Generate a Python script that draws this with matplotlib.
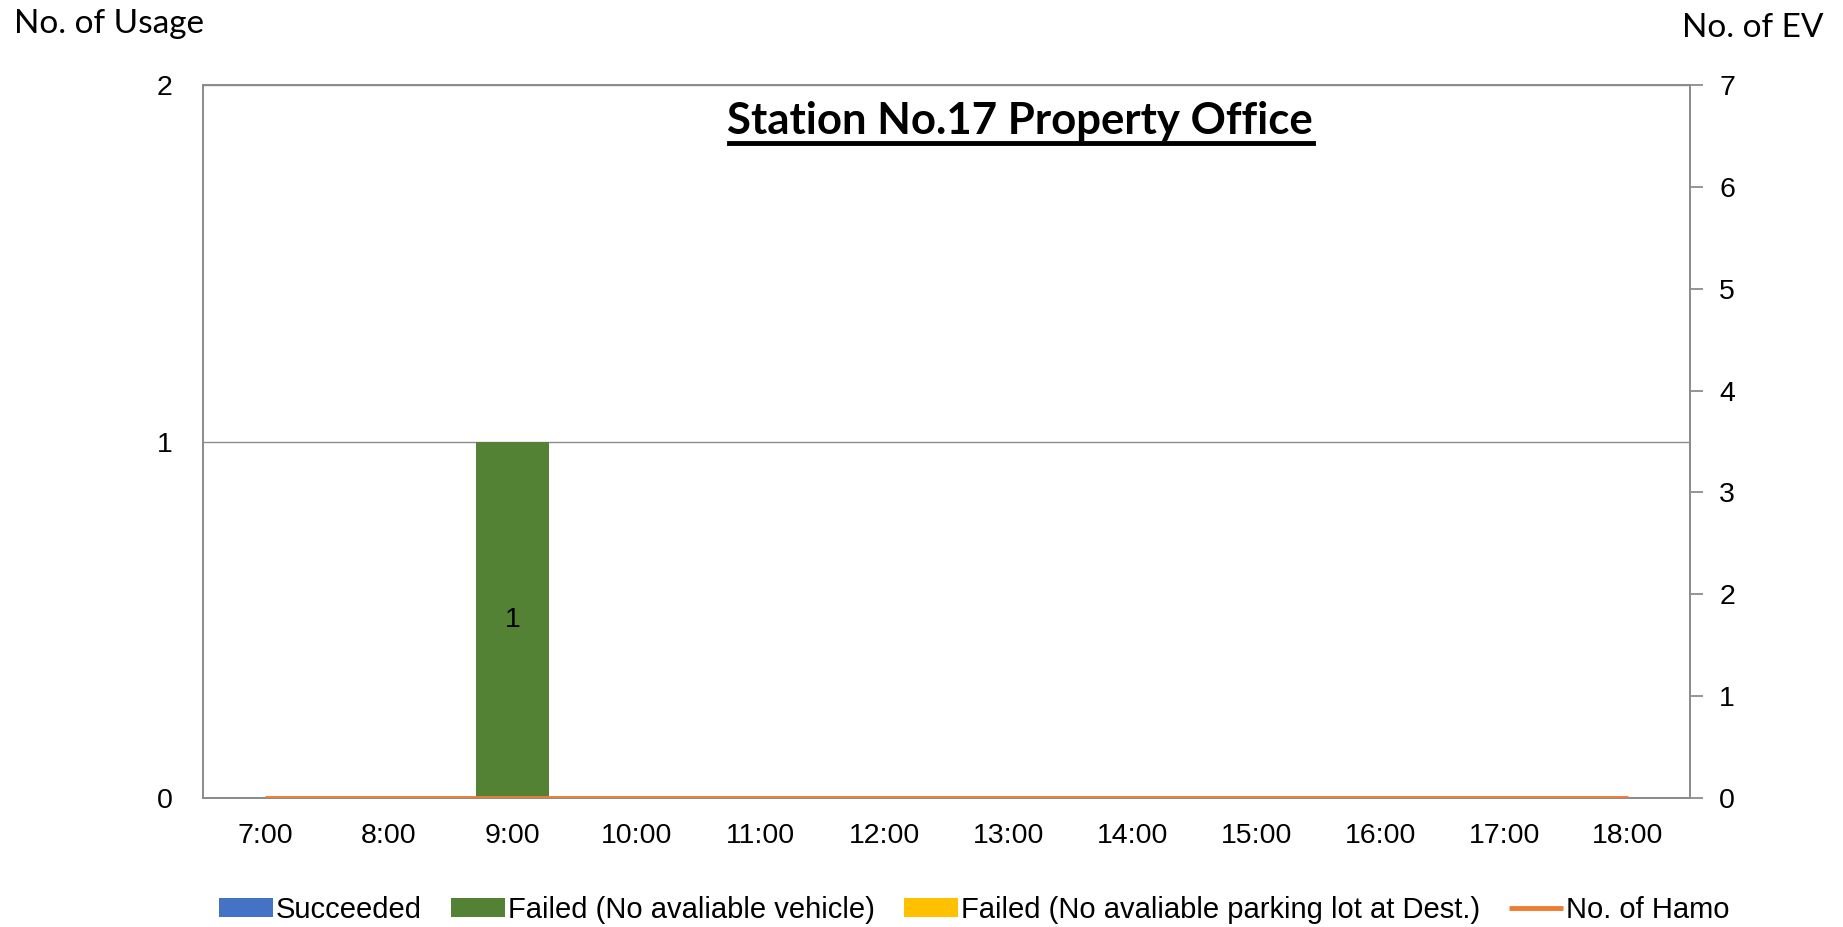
import matplotlib.pyplot as plt
import numpy as np

# data
hours = ['7:00', '8:00', '9:00', '10:00', '11:00', '12:00', '13:00', '14:00',
         '15:00', '16:00', '17:00', '18:00']
succeeded = [0, 0, 0, 0, 0, 0, 0, 0, 0, 0, 0, 0]
failed_vehicle = [0, 0, 1, 0, 0, 0, 0, 0, 0, 0, 0, 0]
failed_parking = [0, 0, 0, 0, 0, 0, 0, 0, 0, 0, 0, 0]
no_of_hamo = [0, 0, 0, 0, 0, 0, 0, 0, 0, 0, 0, 0]

plt.rcParams['font.family'] = ['Liberation Sans', 'DejaVu Sans']

fig = plt.figure(figsize=(18.43, 9.27), dpi=100)
ax = fig.add_axes([203 / 1843, 1 - 798 / 927, (1690 - 203) / 1843, (798 - 85) / 927])
ax2 = ax.twinx()

x = np.arange(len(hours))
w = 0.59
s = np.array(succeeded)
fv = np.array(failed_vehicle)
fp = np.array(failed_parking)
ax.bar(x, s, w, color='#4472C4', label='Succeeded')
bars = ax.bar(x, fv, w, bottom=s, color='#548235', label='Failed (No avaliable vehicle)')
ax.bar(x, fp, w, bottom=s + fv, color='#FFC000', label='Failed (No avaliable parking lot at Dest.)')
for b, v in zip(bars, failed_vehicle):
    if v > 0:
        ax.text(b.get_x() + b.get_width() / 2, b.get_y() + v / 2, str(v),
                ha='center', va='center', fontsize=20.5)

ln, = ax2.plot(x, no_of_hamo, color='#ED7D31', lw=3.5, label='No. of Hamo',
               solid_capstyle='butt', zorder=5)
ax2.set_zorder(ax.get_zorder() + 1)
ax2.patch.set_visible(False)

ax.set_xlim(-0.5, len(hours) - 0.5)
ax.set_ylim(0, 2)
ax.set_yticks([0, 1, 2])
ax2.set_ylim(0, 7)
ax2.set_yticks(range(8))
ax.set_xticks(x)
ax.set_xticklabels(hours)
ax.yaxis.grid(True, color='#8C8C8C', lw=1)
ax.set_axisbelow(True)

for a in (ax, ax2):
    for sp in a.spines.values():
        sp.set_color('#8C8C8C')
        sp.set_linewidth(1.3)
ax.tick_params(axis='x', length=0, labelsize=20.5, pad=18)
ax.tick_params(axis='y', length=0, labelsize=20.5, pad=22)
ax2.tick_params(axis='y', length=9, color='#8C8C8C', width=1.3, labelsize=20.5, pad=12)

fig.text(14 / 1843, 1 - 24 / 927, 'No. of Usage', fontsize=24, family='Lato',
         ha='left', va='center')
fig.text(1824 / 1843, 1 - 28 / 927, 'No. of EV', fontsize=24, family='Lato',
         ha='right', va='center')
fig.text(1020 / 1843, 1 - 121 / 927, 'Station No.17 Property Office', fontsize=31.5,
         family='Lato', fontweight='bold', ha='center', va='center')
# underline of the title
fig.add_artist(plt.Line2D([729 / 1843, 1313 / 1843], [1 - 143 / 927, 1 - 143 / 927],
                          color='black', lw=3.5))

handles = ax.get_legend_handles_labels()[0] + [ln]
labels = [h.get_label() for h in handles]
fig.legend(handles, labels, loc='center', bbox_to_anchor=(974 / 1843, 1 - 910 / 927),
           ncol=4, frameon=False, fontsize=21, handlelength=1.85, handleheight=0.6,
           handletextpad=0.1, columnspacing=1.0)

fig.savefig('out.png', dpi=100)
